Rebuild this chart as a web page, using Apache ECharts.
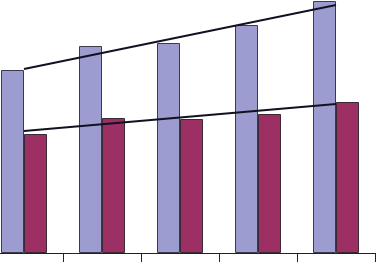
<!DOCTYPE html>
<html>
<head>
<meta charset="utf-8">
<script src="https://cdn.jsdelivr.net/npm/echarts@6/dist/echarts.min.js"></script>
<style>html,body{margin:0;padding:0;background:#fff;overflow:hidden;width:376px;height:262px;}#c{width:391px;height:262px;margin-left:-15px;}</style>
</head>
<body>
<div id="c"></div>
<script>
var categories = ['1', '2', '3', '4', '5'];
var seriesA = [183, 207, 210, 228, 252];
var seriesB = [119, 135, 134, 139, 151];
var trendA = [184, null, null, null, 248];
var trendB = [122, null, null, null, 149];

var chart = echarts.init(document.getElementById('c'), null, {renderer: 'canvas'});
chart.setOption({
  animation: false,
  backgroundColor: '#ffffff',
  grid: {left: 0, right: 1, top: 0, bottom: 9, containLabel: false},
  xAxis: {
    type: 'category',
    data: categories,
    boundaryGap: true,
    axisLine: {show: true, lineStyle: {color: '#222', width: 1}},
    axisTick: {show: true, length: 9, lineStyle: {color: '#222', width: 1}},
    axisLabel: {show: false},
    splitLine: {show: false}
  },
  yAxis: {
    type: 'value', min: 0, max: 253,
    show: false, splitLine: {show: false}
  },
  series: [
    {type: 'bar', data: seriesA, barWidth: 23, barGap: '0%',
     itemStyle: {color: '#9c9cd0', borderColor: '#3a3a4a', borderWidth: 1}},
    {type: 'bar', data: seriesB, barWidth: 23, barGap: '0%',
     itemStyle: {color: '#9c2f64', borderColor: '#3a2a33', borderWidth: 1}},
    {type: 'line', data: trendA, connectNulls: true, symbol: 'none', z: 5,
     lineStyle: {color: '#111122', width: 2}},
    {type: 'line', data: trendB, connectNulls: true, symbol: 'none', z: 5,
     lineStyle: {color: '#111122', width: 2}}
  ]
});
</script>
</body>
</html>
